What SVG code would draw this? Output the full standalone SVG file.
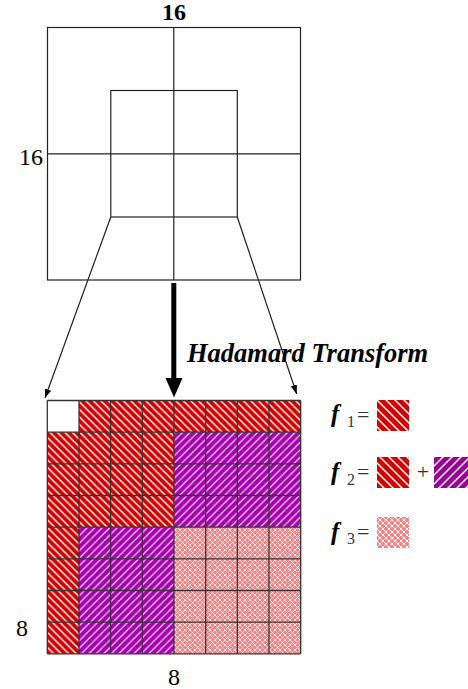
<svg xmlns="http://www.w3.org/2000/svg" width="468" height="689" viewBox="0 0 468 689">
<style>
.ln{stroke:#222;stroke-width:1.2;fill:none}
.gl{stroke:#333;stroke-width:1.3;fill:none}
.num{font-family:'Liberation Serif',serif;font-size:24px;fill:#000}
.lbl{font-family:'Liberation Serif',serif;font-size:26.5px;font-weight:bold;font-style:italic;fill:#000}
.f{font-family:'Liberation Serif',serif;font-size:25px;font-weight:bold;font-style:italic;fill:#000}
.sub{font-family:'Liberation Serif',serif;font-size:16px;fill:#333}
.eq{font-family:'Liberation Serif',serif;font-size:22px;fill:#333}
</style>
<defs>
<pattern id="red" patternUnits="userSpaceOnUse" width="7.5" height="7.5">
<rect width="7.5" height="7.5" fill="#d20000"/>
<path d="M0,0 L7.5,7.5 M-1,6.5 L1,8.5 M6.5,-1 L8.5,1" stroke="#fff" stroke-width="1.4"/>
</pattern>
<pattern id="purple" patternUnits="userSpaceOnUse" width="7.5" height="7.5">
<rect width="7.5" height="7.5" fill="#a800b0"/>
<path d="M0,7.5 L7.5,0 M-1,1 L1,-1 M6.5,8.5 L8.5,6.5" stroke="#fff" stroke-width="1.1"/>
</pattern>
<pattern id="pink" patternUnits="userSpaceOnUse" width="5" height="5">
<rect width="5" height="5" fill="#ff8080"/>
<path d="M0,0 L5,5 M0,5 L5,0" stroke="#fff" stroke-width="0.8"/>
</pattern>
<pattern id="redL" patternUnits="userSpaceOnUse" width="9" height="9" x="377" y="400">
<rect width="9" height="9" fill="#d20000"/>
<path d="M0,0 L9,9 M-1,8 L1,10 M8,-1 L10,1" stroke="#fff" stroke-width="1.5"/>
</pattern>
<pattern id="purpleL" patternUnits="userSpaceOnUse" width="9" height="9" x="434" y="457">
<rect width="9" height="9" fill="#9a0096"/>
<path d="M0,9 L9,0 M-1,1 L1,-1 M8,10 L10,8" stroke="#fff" stroke-width="1.5"/>
</pattern>
<pattern id="pinkL" patternUnits="userSpaceOnUse" width="6" height="6" x="377" y="517">
<rect width="6" height="6" fill="#ff8080"/>
<path d="M0,0 L6,6 M0,6 L6,0" stroke="#fff" stroke-width="1"/>
</pattern>
<marker id="ah" markerUnits="userSpaceOnUse" markerWidth="10" markerHeight="8" refX="9" refY="4" orient="auto">
<path d="M0,0.8 L9,4 L0,7.2 Z" fill="#000"/>
</marker>
</defs>

<g id="input-block">
<rect class="ln" x="47.5" y="27.5" width="253" height="252.5"/>
<line class="ln" x1="173.8" y1="27.5" x2="173.8" y2="280" stroke="#444"/>
<line class="ln" x1="47.5" y1="153.8" x2="300.5" y2="153.8" stroke="#444"/>
<rect class="ln" x="110.8" y="90.5" width="126.5" height="126.5"/>
<text class="num" x="174" y="20" text-anchor="middle" font-weight="bold">16</text>
<text class="num" x="43" y="165" text-anchor="end">16</text>
</g>

<g id="connectors">
<line class="ln" x1="110.8" y1="217" x2="45" y2="398" marker-end="url(#ah)" stroke-width="1"/>
<line class="ln" x1="237.3" y1="217" x2="296.7" y2="394" marker-end="url(#ah)" stroke-width="1"/>
<rect x="171.3" y="283" width="5" height="96" fill="#000"/>
<path d="M165.5,378 L182.5,378 L174,397.5 Z" fill="#000"/>
</g>

<g id="transform-label">
<text class="lbl" x="187" y="362">Hadamard Transform</text>
</g>

<g id="coefficient-grid">
<rect x="47.3" y="400.5" width="31.7" height="31.7" fill="#fff"/>
<rect x="79" y="400.5" width="221.7" height="31.7" fill="url(#red)"/>
<rect x="47.3" y="432.2" width="126.7" height="95" fill="url(#red)"/>
<rect x="47.3" y="527.2" width="31.7" height="126.6" fill="url(#red)"/>
<rect x="174" y="432.2" width="126.7" height="95" fill="url(#purple)"/>
<rect x="79" y="527.2" width="95" height="126.6" fill="url(#purple)"/>
<rect x="174" y="527.2" width="126.7" height="126.6" fill="url(#pink)"/>
<path class="gl" d="M47.3,400.5V653.8M79,400.5V653.8M110.6,400.5V653.8M142.3,400.5V653.8M174,400.5V653.8M205.7,400.5V653.8M237.3,400.5V653.8M269,400.5V653.8M300.7,400.5V653.8M47.3,400.5H300.7M47.3,432.2H300.7M47.3,463.8H300.7M47.3,495.5H300.7M47.3,527.2H300.7M47.3,558.8H300.7M47.3,590.5H300.7M47.3,622.2H300.7M47.3,653.8H300.7"/>
<text class="num" x="22" y="636" text-anchor="middle">8</text>
<text class="num" x="174" y="685" text-anchor="middle">8</text>
</g>

<g id="legend-f1">
<text class="f" x="331" y="422">f</text>
<text class="sub" x="347" y="426.5">1</text>
<text class="eq" x="357" y="422">=</text>
<rect x="377" y="400" width="32" height="31" fill="url(#redL)"/>
</g>
<g id="legend-f2">
<text class="f" x="331" y="480">f</text>
<text class="sub" x="347" y="484.5">2</text>
<text class="eq" x="357" y="479">=</text>
<rect x="377" y="457" width="32" height="31" fill="url(#redL)"/>
<text class="eq" x="423" y="479" text-anchor="middle">+</text>
<rect x="434" y="457" width="34" height="31" fill="url(#purpleL)"/>
</g>
<g id="legend-f3">
<text class="f" x="331" y="539.5">f</text>
<text class="sub" x="347" y="544">3</text>
<text class="eq" x="357" y="539">=</text>
<rect x="377" y="517" width="32" height="31" fill="url(#pinkL)"/>
</g>
</svg>
